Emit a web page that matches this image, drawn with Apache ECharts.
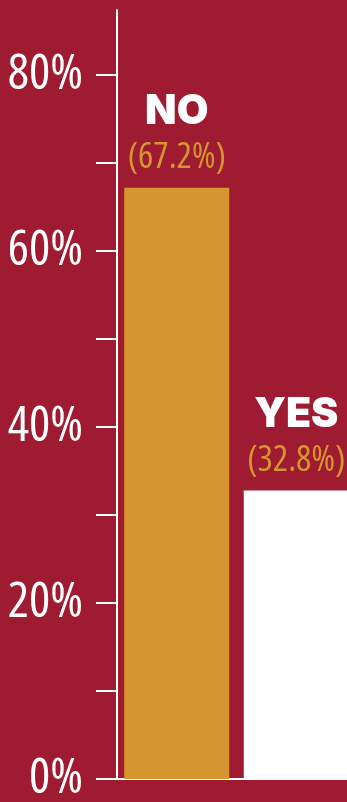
<!DOCTYPE html>
<html>
<head>
<meta charset="utf-8">
<script src="https://cdn.jsdelivr.net/npm/echarts@6/dist/echarts.min.js"></script>
<style>
  html, body { margin: 0; padding: 0; background: #9e1b32; }
  #chart { width: 347px; height: 802px; }
</style>
</head>
<body>
<div id="chart"></div>
<script>
// Answer categories and their share of responses (%)
const categories = ['NO', 'YES'];
const shares = [67.2, 32.8];
// Minor ticks every 10%, labelled every 20%
const tickValues = [0, 10, 20, 30, 40, 50, 60, 70, 80];
const labelValues = [0, 20, 40, 60, 80];

const BG = '#9e1b32';
const GOLD = '#d5952f';
const WHITE = '#ffffff';
const barColors = [GOLD, WHITE];
const narrow = '"Open Sans", "Roboto Condensed", sans-serif';

const chart = echarts.init(document.getElementById('chart'), null, { renderer: 'canvas' });

chart.setOption({
  backgroundColor: BG,
  animation: false,
  grid: {
    left: 117, right: -9, top: 10, bottom: 23,
    containLabel: false,
    outerBoundsMode: 'none'
  },
  xAxis: {
    type: 'category',
    data: categories,
    axisLine: { show: true, lineStyle: { color: WHITE, width: 2 } },
    axisTick: { show: false },
    axisLabel: { show: false },
    splitLine: { show: false }
  },
  yAxis: {
    type: 'value',
    min: 0,
    max: 87.4,
    interval: 10,
    axisLine: { show: true, lineStyle: { color: WHITE, width: 2 } },
    axisTick: {
      show: true,
      length: 21,
      customValues: tickValues,
      lineStyle: { color: WHITE, width: 2 }
    },
    axisLabel: {
      show: true,
      customValues: labelValues,
      formatter: '{value}%',
      color: WHITE,
      fontFamily: narrow,
      fontStyle: 'condensed',
      fontWeight: 500,
      fontSize: 50,
      margin: 34
    },
    splitLine: { show: false }
  },
  series: [{
    type: 'bar',
    barWidth: 105,
    data: shares.map((v, i) => ({ value: v, itemStyle: { color: barColors[i] } })),
    label: {
      show: true,
      position: 'top',
      distance: 8,
      formatter: p => '{name|' + p.name + '}\n{pct|(' + p.value.toFixed(1) + '%)}',
      rich: {
        name: {
          fontFamily: 'Inter, "Open Sans", sans-serif',
          fontWeight: 900,
          fontSize: 41,
          color: WHITE,
          lineHeight: 48
        },
        pct: {
          fontFamily: narrow,
          fontStyle: 'condensed',
          fontWeight: 500,
          fontSize: 36,
          color: GOLD,
          lineHeight: 44
        }
      }
    }
  }]
});
</script>
</body>
</html>
